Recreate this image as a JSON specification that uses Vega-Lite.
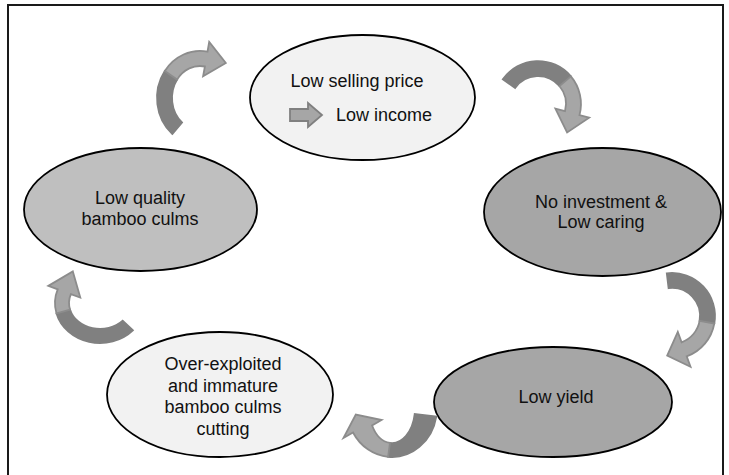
{
  "$schema": "https://vega.github.io/schema/vega-lite/v6.json",
  "width": 729,
  "height": 475,
  "padding": 0,
  "autosize": {"type": "none"},
  "background": "white",
  "config": {"view": {"stroke": null}},
  "layer": [
    {
      "data": {"values": [{"x": 8, "x2": 723, "y": 5, "y2": 490}]},
      "mark": {"type": "rect", "fill": null, "stroke": "#1a1a1a", "strokeWidth": 2},
      "encoding": {
        "x": {"field": "x", "type": "quantitative", "scale": {"domain": [0, 729], "nice": false, "zero": false}, "axis": null},
        "x2": {"field": "x2"},
        "y": {"field": "y", "type": "quantitative", "scale": {"domain": [0, 475], "nice": false, "zero": false, "reverse": true}, "axis": null},
        "y2": {"field": "y2"}
      }
    },
    {
      "data": {"values": [
        {"id": "e1", "x": 362.5, "y": 97.5},
        {"id": "e2", "x": 140.5, "y": 209.5},
        {"id": "e3", "x": 602.5, "y": 212},
        {"id": "e4", "x": 553, "y": 402},
        {"id": "e5", "x": 220, "y": 394.5},
        {"id": "a1t", "x": 200, "y": 98},
        {"id": "a1h", "x": 200, "y": 98},
        {"id": "a2t", "x": 538, "y": 104},
        {"id": "a2h", "x": 538, "y": 104},
        {"id": "a3t", "x": 672, "y": 316},
        {"id": "a3h", "x": 672, "y": 316},
        {"id": "a4t", "x": 392, "y": 408},
        {"id": "a4h", "x": 392, "y": 408},
        {"id": "a5t", "x": 100, "y": 303},
        {"id": "a5h", "x": 100, "y": 303},
        {"id": "sa", "x": 306, "y": 115}
      ]},
      "mark": {"type": "point", "filled": true, "opacity": 1, "size": 4},
      "encoding": {
        "x": {"field": "x", "type": "quantitative"},
        "y": {"field": "y", "type": "quantitative"},
        "shape": {"field": "id", "type": "nominal", "legend": null, "scale": {
          "domain": ["e1", "e2", "e3", "e4", "e5", "a1t", "a1h", "a2t", "a2h", "a3t", "a3h", "a4t", "a4h", "a5t", "a5h", "sa"],
          "range": [
            "M -112.5 0 C -112.5 -34.5 -62.1 -62.5 0 -62.5 C 62.1 -62.5 112.5 -34.5 112.5 0 C 112.5 34.5 62.1 62.5 0 62.5 C -62.1 62.5 -112.5 34.5 -112.5 0 Z",
            "M -116.5 0 C -116.5 -34 -64.3 -61.5 0 -61.5 C 64.3 -61.5 116.5 -34 116.5 0 C 116.5 34 64.3 61.5 0 61.5 C -64.3 61.5 -116.5 34 -116.5 0 Z",
            "M -118.5 0 C -118.5 -35.3 -65.4 -64 0 -64 C 65.4 -64 118.5 -35.3 118.5 0 C 118.5 35.3 65.4 64 0 64 C -65.4 64 -118.5 35.3 -118.5 0 Z",
            "M -119 0 C -119 -30.4 -65.7 -55 0 -55 C 65.7 -55 119 -30.4 119 0 C 119 30.4 65.7 55 0 55 C -65.7 55 -119 30.4 -119 0 Z",
            "M -113 0 C -113 -34.5 -62.4 -62.5 0 -62.5 C 62.4 -62.5 113 -34.5 113 0 C 113 34.5 62.4 62.5 0 62.5 C -62.4 62.5 -113 34.5 -113 0 Z",
            "M -27.6 36 A 43 47 0 0 1 -35.2 -27 L -22.9 -18.4 A 28 32 0 0 0 -18 24.5 Z",
            "M -35.2 -27 A 43 47 0 0 1 7.5 -46.3 L 9.2 -56.1 L 25.8 -35 L 3.1 -21.7 L 4.9 -31.5 A 28 32 0 0 0 -22.9 -18.4 Z",
            "M -35.2 -24.7 A 43 43 0 0 1 32.9 -27.6 L 21.4 -18 A 28 28 0 0 0 -22.9 -16.1 Z",
            "M 32.9 -27.6 A 43 43 0 0 1 41.5 11.1 L 51.2 13.7 L 29.1 28.5 L 17.4 4.7 L 27 7.2 A 28 28 0 0 0 21.4 -18 Z",
            "M -5.2 -42.7 A 43 43 0 0 1 42.3 7.5 L 27.6 4.9 A 28 28 0 0 0 -3.4 -27.8 Z",
            "M 42.3 7.5 A 43 43 0 0 1 14.7 40.4 L 18.5 50.7 L -4.8 39.6 L 5.8 16 L 9.6 26.3 A 28 28 0 0 0 27.6 4.9 Z",
            "M 44.3 8.5 A 45 49 0 0 1 -3.9 48.8 L -2 34.9 A 23 35 0 0 0 22.7 6.1 Z",
            "M -3.9 48.8 A 45 49 0 0 1 -39 24.5 L -48.5 30 L -36.2 6.5 L -10.4 12 L -19.9 17.5 A 23 35 0 0 0 -2 34.9 Z",
            "M 32.9 27.3 A 45 40 0 0 1 -43.5 10.4 L -29.9 6.7 A 31 26 0 0 0 22.7 17.7 Z",
            "M -43.5 10.4 A 45 40 0 0 1 -42.3 -13.7 L -51.7 -17.1 L -27.2 -31.6 L -19.7 -5.5 L -29.1 -8.9 A 31 26 0 0 0 -29.9 6.7 Z",
            "M -16 -6 L 2 -6 L 2 -12 L 16 0 L 2 12 L 2 6 L -16 6 Z"
          ]}},
        "fill": {"field": "id", "type": "nominal", "legend": null, "scale": {
          "domain": ["e1", "e2", "e3", "e4", "e5", "a1t", "a1h", "a2t", "a2h", "a3t", "a3h", "a4t", "a4h", "a5t", "a5h", "sa"],
          "range": ["#f2f2f2", "#bfbfbf", "#a6a6a6", "#a6a6a6", "#f2f2f2", "#808080", "#a6a6a6", "#808080", "#a6a6a6", "#808080", "#a6a6a6", "#808080", "#a6a6a6", "#808080", "#a6a6a6", "#a6a6a6"]}},
        "stroke": {"field": "id", "type": "nominal", "legend": null, "scale": {
          "domain": ["e1", "e2", "e3", "e4", "e5", "a1t", "a1h", "a2t", "a2h", "a3t", "a3h", "a4t", "a4h", "a5t", "a5h", "sa"],
          "range": ["#000000", "#000000", "#000000", "#000000", "#000000", "#808080", "#8c8c8c", "#808080", "#8c8c8c", "#808080", "#8c8c8c", "#808080", "#8c8c8c", "#808080", "#8c8c8c", "#808080"]}},
        "strokeWidth": {"field": "id", "type": "nominal", "legend": null, "scale": {
          "domain": ["e1", "e2", "e3", "e4", "e5", "a1t", "a1h", "a2t", "a2h", "a3t", "a3h", "a4t", "a4h", "a5t", "a5h", "sa"],
          "range": [1.8, 1.8, 1.8, 1.8, 1.8, 1, 1, 1, 1, 1, 1, 1, 1, 1, 1, 1]}}
      }
    },
    {
      "data": {"values": [
        {"t": "Low selling price", "x": 357, "y": 82},
        {"t": "Low income", "x": 384, "y": 116},
        {"t": "Low quality", "x": 140, "y": 199},
        {"t": "bamboo culms", "x": 140, "y": 220},
        {"t": "No investment &", "x": 601, "y": 203},
        {"t": "Low caring", "x": 601, "y": 223},
        {"t": "Low yield", "x": 556, "y": 398},
        {"t": "Over-exploited", "x": 223, "y": 365},
        {"t": "and immature", "x": 223, "y": 387},
        {"t": "bamboo culms", "x": 223, "y": 408},
        {"t": "cutting", "x": 223, "y": 430}
      ]},
      "mark": {"type": "text", "font": "Liberation Sans", "fontSize": 18, "color": "#111111", "align": "center", "baseline": "middle"},
      "encoding": {
        "x": {"field": "x", "type": "quantitative"},
        "y": {"field": "y", "type": "quantitative"},
        "text": {"field": "t", "type": "nominal"}
      }
    }
  ]
}
